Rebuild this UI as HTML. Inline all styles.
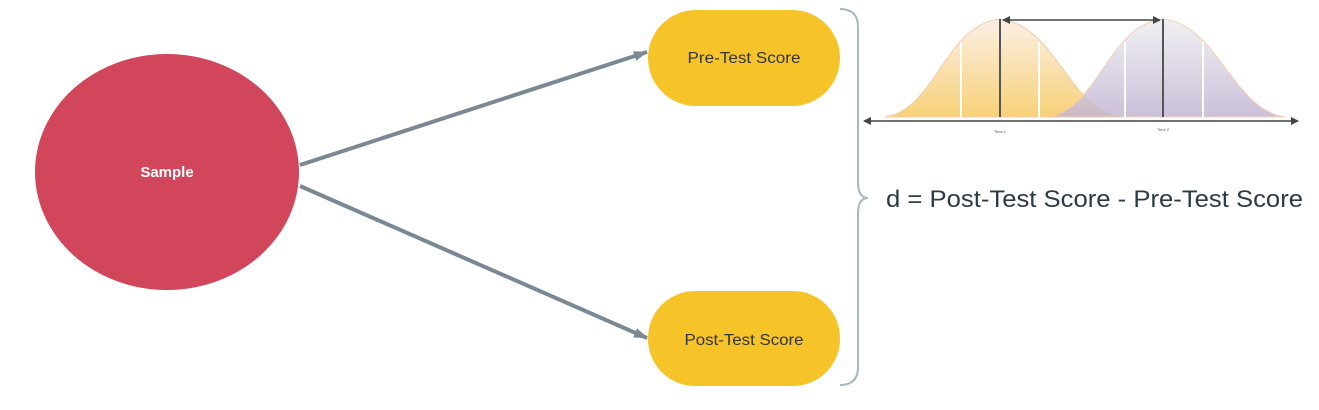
<!DOCTYPE html>
<html><head><style>
body{margin:0;width:1319px;height:405px;background:#fff;overflow:hidden;font-family:"Liberation Sans",sans-serif;}
</style></head><body>
<svg width="1319" height="405" viewBox="0 0 1319 405" xmlns="http://www.w3.org/2000/svg">
<defs>
<linearGradient id="gy" x1="0" y1="0" x2="0" y2="1"><stop offset="0" stop-color="#fbefe4"/><stop offset="1" stop-color="#f7cf72"/></linearGradient>
<linearGradient id="gp" x1="0" y1="0" x2="0" y2="1"><stop offset="0" stop-color="#f0eef2"/><stop offset="1" stop-color="#c3b6d3"/></linearGradient>
<marker id="ah" markerWidth="14" markerHeight="12" refX="13" refY="6" orient="auto" markerUnits="userSpaceOnUse"><path d="M0,1 L14,6 L0,11 z" fill="#7a8896"/></marker>
<marker id="sa" markerWidth="8" markerHeight="8" refX="7" refY="4" orient="auto-start-reverse" markerUnits="userSpaceOnUse"><path d="M0,0 L8,4 L0,8 z" fill="#444"/></marker>
</defs>
<ellipse cx="167" cy="172" rx="132" ry="118" fill="#d1465a"/>
<text x="167" y="177" fill="#fff" font-size="15" font-weight="bold" text-anchor="middle">Sample</text>
<line x1="300" y1="165" x2="647" y2="52" stroke="#7a8896" stroke-width="4" marker-end="url(#ah)"/>
<line x1="300" y1="186" x2="647" y2="338" stroke="#7a8896" stroke-width="4" marker-end="url(#ah)"/>
<rect x="648" y="10" width="192" height="96" rx="48" fill="#f6c429"/>
<text x="744" y="63" fill="#333" font-size="16" text-anchor="middle" textLength="113" lengthAdjust="spacingAndGlyphs">Pre-Test Score</text>
<rect x="648" y="291" width="192" height="95" rx="47" fill="#f6c429"/>
<text x="744" y="345" fill="#333" font-size="16" text-anchor="middle" textLength="119" lengthAdjust="spacingAndGlyphs">Post-Test Score</text>
<path d="M840,9 Q858,9 858,27 L858,182 Q858,198 868,198 Q858,198 858,214 L858,367 Q858,385 840,385" fill="none" stroke="#aab6c2" stroke-width="2"/>
<path d="M885,117 C935,110 945,25 1000,19 C1055,25 1070,110 1120,117 Z" fill="url(#gy)" stroke="#f3c9a4" stroke-width="1" opacity="0.95"/>
<path d="M1048,117 C1098,110 1108,25 1163,19 C1218,25 1233,110 1285,117 Z" fill="url(#gp)" stroke="#f3c9a4" stroke-width="1" opacity="0.85"/>
<g stroke="#fff" stroke-width="2"><line x1="961" y1="42" x2="961" y2="117"/><line x1="1039" y1="42" x2="1039" y2="117"/><line x1="1125" y1="42" x2="1125" y2="117"/><line x1="1203" y1="42" x2="1203" y2="117"/></g>
<line x1="1000" y1="19" x2="1000" y2="117" stroke="#555" stroke-width="2"/>
<line x1="1163" y1="19" x2="1163" y2="117" stroke="#555" stroke-width="2"/>
<line x1="1003" y1="20" x2="1160" y2="20" stroke="#444" stroke-width="1.5" marker-start="url(#sa)" marker-end="url(#sa)"/>
<line x1="864" y1="121" x2="1298" y2="121" stroke="#444" stroke-width="1.5" marker-start="url(#sa)" marker-end="url(#sa)"/>
<text x="1000" y="133" font-size="4" fill="#555" text-anchor="middle">Time 1</text>
<text x="1163" y="131" font-size="4" fill="#555" text-anchor="middle">Time 2</text>
<text x="886" y="207" font-size="24" fill="#2d3a48" textLength="417" lengthAdjust="spacingAndGlyphs">d = Post-Test Score - Pre-Test Score</text>
</svg>
</body></html>
